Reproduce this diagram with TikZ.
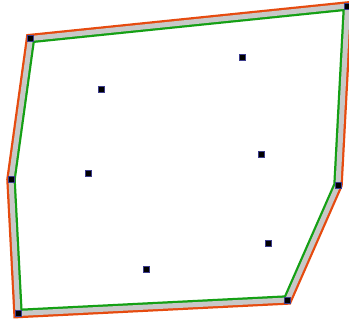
\documentclass[tikz,border=0pt]{standalone}
\begin{document}
\begin{tikzpicture}[x=1pt,y=-1pt,
  pt/.style={draw={rgb,255:red,60;green,60;blue,140},fill=black,line width=0.4pt,minimum size=6pt,inner sep=0pt,outer sep=0pt,rectangle}]
\useasboundingbox (0,0) rectangle (349,322);
\clip (0,0) rectangle (349,322);
\coordinate (h1) at (30.5,38.5);
\coordinate (h2) at (347.5,6);
\coordinate (h3) at (338,185);
\coordinate (h4) at (287.5,300);
\coordinate (h5) at (18,313.5);
\coordinate (h6) at (11,179.5);
\draw[line width=9.5pt,draw={rgb,255:red,230;green,75;blue,15},line join=miter] (h1)--(h2)--(h3)--(h4)--(h5)--(h6)--cycle;
\begin{scope}
\clip (h1)--(h2)--(h3)--(h4)--(h5)--(h6)--cycle;
\fill[white] (h1)--(h2)--(h3)--(h4)--(h5)--(h6)--cycle;
\draw[line width=9.5pt,draw={rgb,255:red,20;green,160;blue,20},line join=miter] (h1)--(h2)--(h3)--(h4)--(h5)--(h6)--cycle;
\end{scope}
\draw[line width=5pt,draw={rgb,255:red,200;green,200;blue,200},line join=miter] (h1)--(h2)--(h3)--(h4)--(h5)--(h6)--cycle;
\foreach \n/\p in {v1/h1,v2/h2,v3/h3,v4/h4,v5/h5,v6/h6}{\node[pt] (\n) at (\p) {};}
\node[pt] (p1) at (241.7,57.3) {};
\node[pt] (p2) at (101,89.3) {};
\node[pt] (p3) at (261,153.7) {};
\node[pt] (p4) at (88,172.7) {};
\node[pt] (p5) at (267.7,243) {};
\node[pt] (p6) at (145.7,269) {};
\end{tikzpicture}
\end{document}
